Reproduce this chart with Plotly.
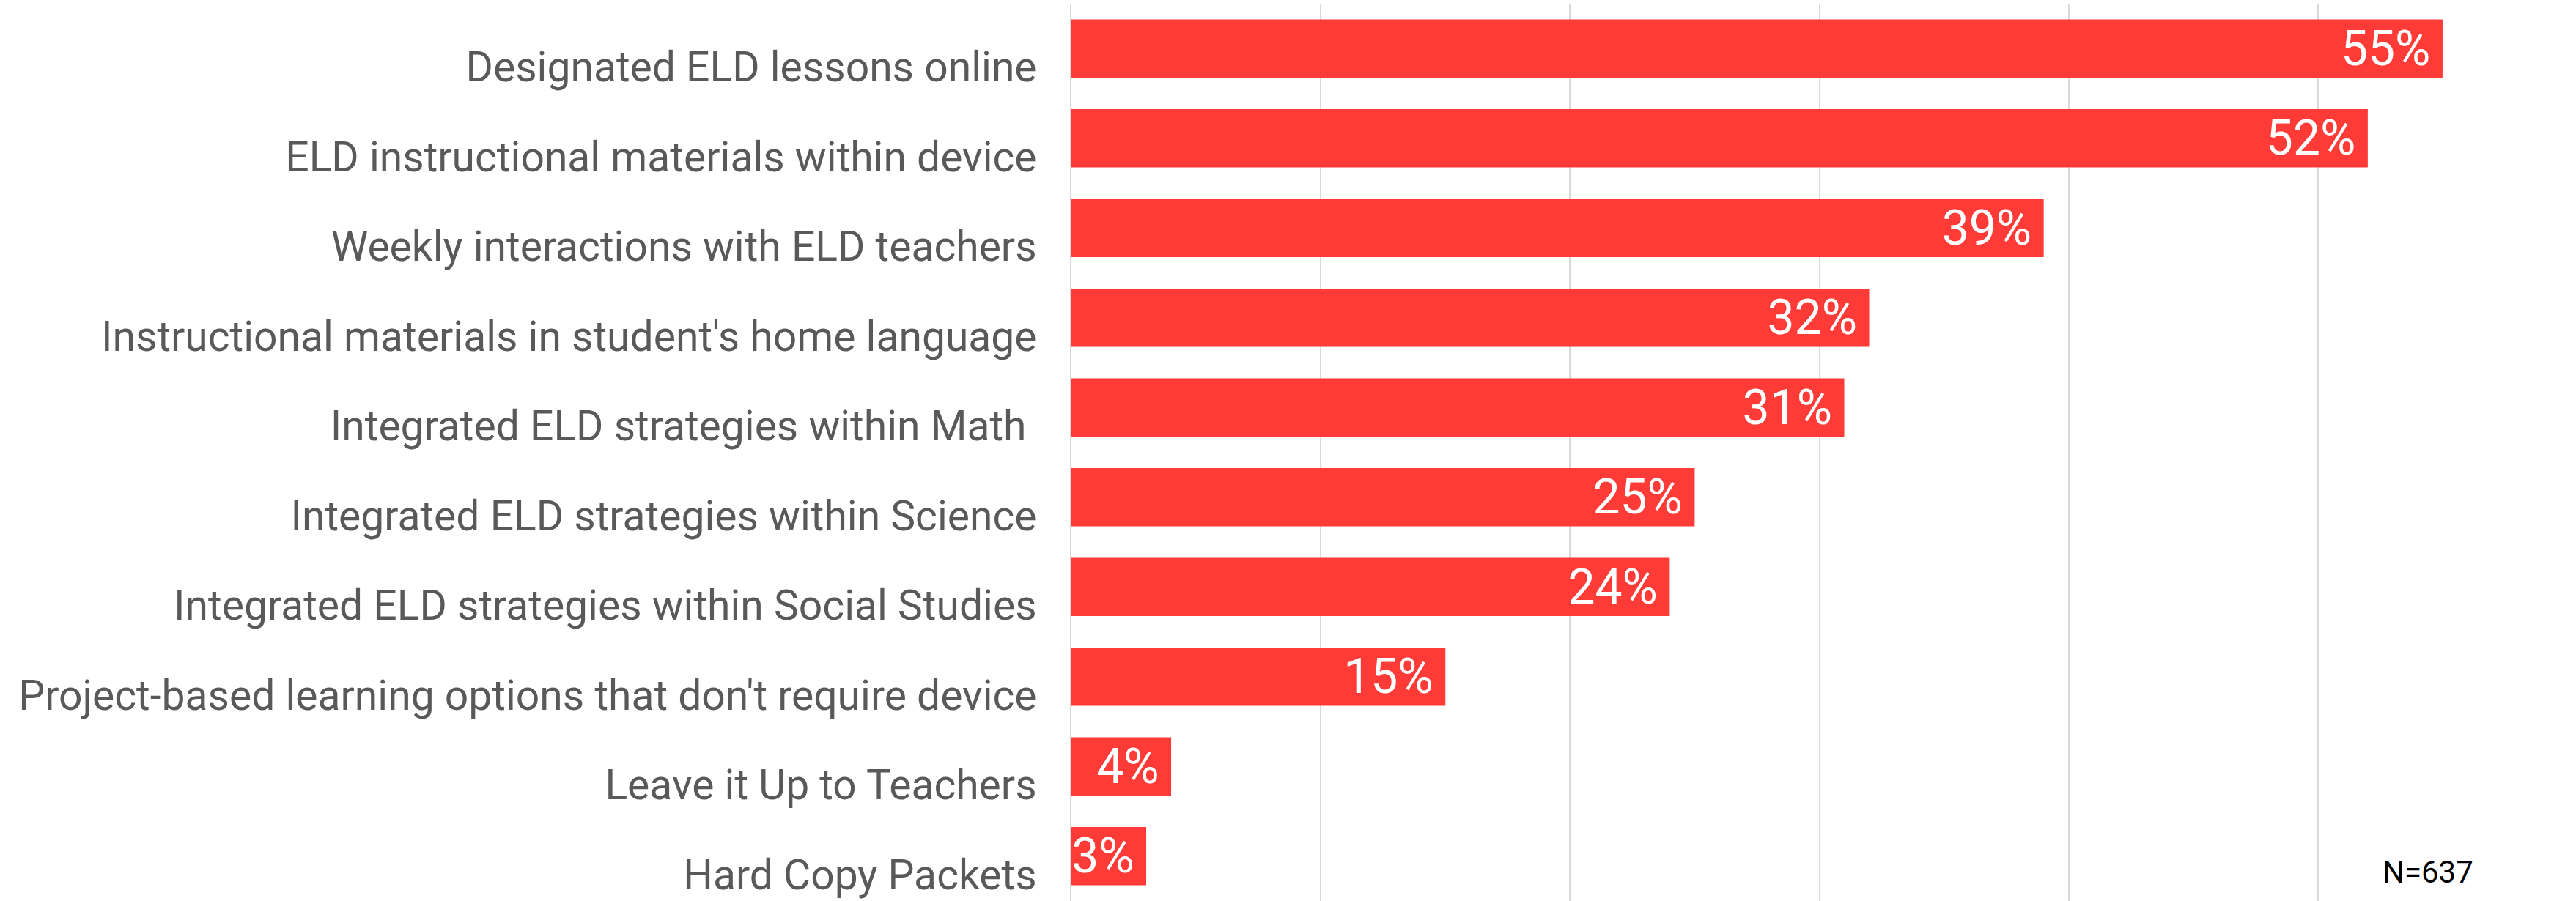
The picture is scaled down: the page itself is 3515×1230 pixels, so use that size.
import plotly.graph_objects as go

categories = [
    "Designated ELD lessons online",
    "ELD instructional materials within device",
    "Weekly interactions with ELD teachers",
    "Instructional materials in student's home language",
    "Integrated ELD strategies within Math\u00a0",
    "Integrated ELD strategies within Science",
    "Integrated ELD strategies within Social Studies",
    "Project-based learning options that don't require device",
    "Leave it Up to Teachers",
    "Hard Copy Packets",
]
values = [0.55, 0.52, 0.39, 0.32, 0.31, 0.25, 0.24, 0.15, 0.04, 0.03]
x_ticks = [0, 0.1, 0.2, 0.3, 0.4, 0.5, 0.6]
note = "N=637"

FONT = "Roboto"
W, H = 3515, 1230
ML, MR, MT, MB = 1462, 12, 5, 0

fig = go.Figure(
    go.Bar(
        x=values,
        y=categories,
        orientation="h",
        marker=dict(color="#FF3B37", line=dict(width=0)),
        text=[f"{round(v*100)}%\u2009" for v in values],
        textposition="inside",
        insidetextanchor="end",
        constraintext="none",
        textangle=0,
        cliponaxis=True,
        textfont=dict(family=FONT, size=66, color="white"),
        hoverinfo="skip",
    )
)

plot_w = W - ML - MR
plot_h = H - MT - MB

fig.update_layout(
    width=W,
    height=H,
    margin=dict(l=ML, r=MR, t=MT, b=MB, pad=0),
    plot_bgcolor="white",
    paper_bgcolor="white",
    bargap=0.35,
    showlegend=False,
    xaxis=dict(
        range=[0, 0.6],
        tickvals=x_ticks,
        showticklabels=False,
        showgrid=True,
        gridcolor="#D9D9D9",
        gridwidth=2,
        zeroline=False,
        showline=False,
    ),
    yaxis=dict(
        autorange="reversed",
        showgrid=False,
        showline=True,
        linecolor="#D9D9D9",
        linewidth=2,
        tickfont=dict(family=FONT, size=57, color="#595959"),
        ticklabelstandoff=34,
        ticklabelshift=-25,
        ticks="",
    ),
    annotations=[
        dict(
            text=note,
            x=(3313 - ML) / plot_w,
            y=1 - (1190 - MT) / plot_h,
            xref="paper",
            yref="paper",
            xanchor="center",
            yanchor="middle",
            showarrow=False,
            font=dict(family=FONT, size=42, color="black"),
        )
    ],
)

fig.write_html(
    "out.html",
    config={"displayModeBar": False},
    post_script="document.body.style.margin='0';document.body.style.overflow='hidden';",
)
